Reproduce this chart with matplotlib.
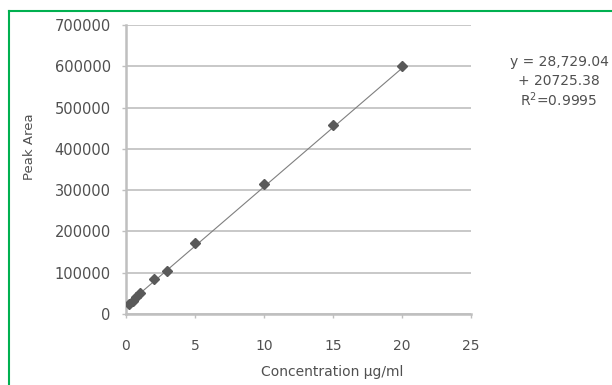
import matplotlib.pyplot as plt
import numpy as np
from matplotlib.lines import Line2D

conc = [0.25, 0.5, 0.75, 1, 2, 3, 5, 10, 15, 20]
area = [25000, 32000, 40000, 50000, 85000, 105000, 172000, 315000, 458000, 600000]
slope, intercept = 28729.04, 20725.38
eq_lines = ["y = 28,729.04", "+ 20725.38", "R$^2$=0.9995"]

fig = plt.figure(figsize=(6.12, 3.85), dpi=100)
ax = fig.add_axes([126 / 612, 1 - 314 / 385, (471 - 126) / 612, (314 - 25) / 385])

grey = "#bfbfbf"
txt = "#505050"

xs = np.array([min(conc), max(conc)])
ax.plot(xs, slope * xs + intercept, color="#7f7f7f", lw=0.8, zorder=2)
ax.plot(conc, area, "D", color="#595959", markersize=5.5, zorder=3)

ax.set_xlim(0, 25)
ax.set_ylim(0, 700000)
ax.set_xticks(range(0, 26, 5))
ax.set_yticks(range(0, 700001, 100000))
ax.yaxis.grid(True, color=grey, lw=1.2)
ax.set_axisbelow(True)
for s in ["top", "right"]:
    ax.spines[s].set_visible(False)
for s in ["left", "bottom"]:
    ax.spines[s].set_color(grey)
    ax.spines[s].set_linewidth(1.8)
ax.tick_params(axis="both", colors=grey, labelcolor=txt, length=3, width=1)
ax.tick_params(axis="y", labelsize=10.5, pad=8)
ax.tick_params(axis="x", labelsize=10, pad=15)
ax.set_xlabel("Concentration µg/ml", fontsize=10, color=txt)
ax.xaxis.set_label_coords((332 - 126) / (471 - 126), -(372 - 314) / (314 - 25))
ax.xaxis.label.set_va("center")
ax.set_ylabel("Peak Area", fontsize=9.5, color=txt)
ax.yaxis.set_label_coords(-(126 - 29) / (471 - 126), (314 - 147) / (314 - 25))
ax.yaxis.label.set_va("center")

for i, s in enumerate(eq_lines):
    fig.text(559 / 612, 1 - (62 + i * 19) / 385, s, fontsize=10, color=txt,
             ha="center", va="center")

# green frame on top and left
fig.add_artist(Line2D([9 / 612, 1], [1 - 11 / 385] * 2, color="#00b050", lw=1.5))
fig.add_artist(Line2D([9 / 612] * 2, [0, 1 - 11 / 385], color="#00b050", lw=1.5))

fig.savefig("out.png")
